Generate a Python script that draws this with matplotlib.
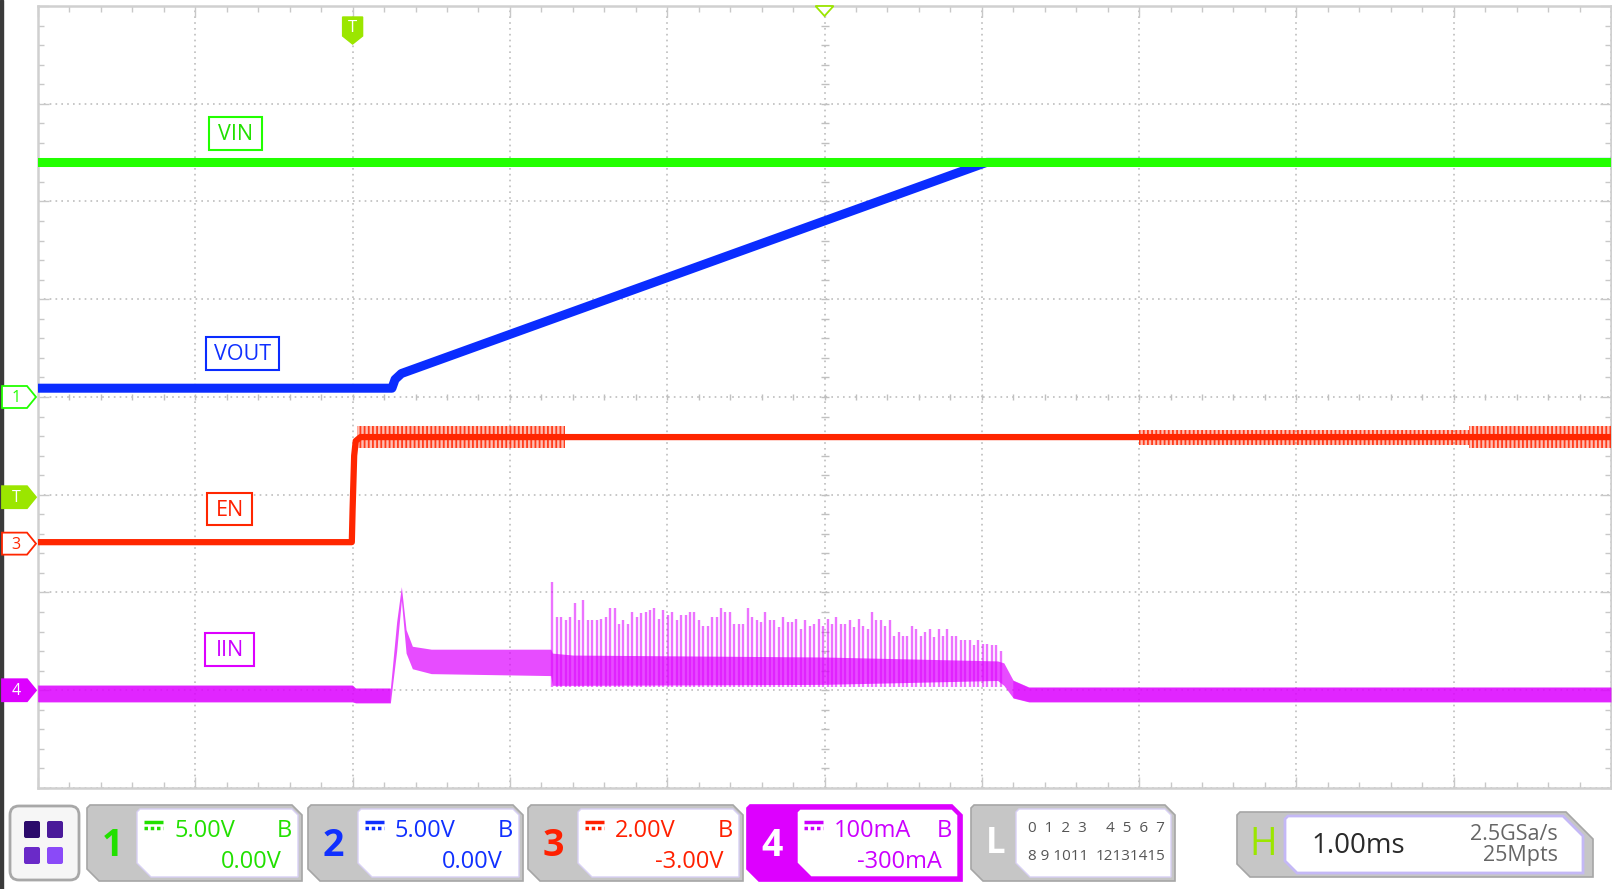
import numpy as np
import matplotlib.pyplot as plt
from matplotlib.patches import Polygon, Rectangle, FancyBboxPatch
from matplotlib.ticker import MultipleLocator

plt.rcParams['font.family'] = ['Open Sans', 'DejaVu Sans']
plt.rcParams['hatch.linewidth'] = 1.3

# channel settings: volts (or mA) per division and offset
ch_names = ['VIN', 'VOUT', 'EN', 'IIN']
ch_scale = [5.0, 5.0, 2.0, 100.0]
ch_offset = [0.0, 0.0, -3.0, -300.0]
ch_scale_txt = ['5.00V', '5.00V', '2.00V', '100mA']
ch_offset_txt = ['0.00V', '0.00V', '-3.00V', '-300mA']
ch_color = ['#22ff00', '#0a2cff', '#ff2600', '#dd00ff']
ch_text_color = ['#22e000', '#1030ff', '#ff2000', '#cc00ff']
timebase_txt = '1.00ms'
sample_txt = ['2.5GSa/s', '25Mpts']
logic_txt = [('0  1  2  3', '4  5  6  7'), ('8 9 1011', '12131415')]

# traces, time in ms (trigger at 0)
vin_t = [-2.0, 8.0]
vin_v = [12.0, 12.0]

vout_t = [-2.0, 0.25, 0.27, 0.31, 4.03, 8.0]
vout_v = [0.45, 0.45, 0.9, 1.2, 12.0, 12.0]

en_t = [-2.0, -0.005, 0.0, 0.01, 0.02, 0.05, 8.0]
en_v = [0.03, 0.03, 0.7, 1.8, 2.1, 2.18, 2.18]
# ripple band on EN high level
en_band_t = [0.03, 1.35, 1.35, 5.0, 5.0, 7.1, 7.1, 8.0]
en_band_hi = [2.40, 2.40, 2.23, 2.23, 2.33, 2.33, 2.40, 2.40]
en_band_lo = [1.96, 1.96, 2.13, 2.13, 2.02, 2.02, 1.96, 1.96]

# input current envelope (mA)
iin_t = [-2.0, 0.0, 0.02, 0.24, 0.28, 0.31, 0.34, 0.38, 0.50, 1.26, 1.27,
         1.40, 3.00, 4.10, 4.14, 4.20, 4.30, 8.0]
iin_upper = [5, 5, 2, 2, 70, 106, 62, 45, 42, 42, 38, 36, 34, 30, 28, 10, 3, 3]
iin_lower = [-12, -12, -13, -13, 40, 92, 38, 22, 17, 15, 5, 5, 6, 10, 5, -8, -12, -12]

# switching spikes during soft start (peak mA)
iin_burst_start = 1.27
iin_burst_end = 4.12
iin_spike_floor = 3.0
iin_spike_peak = [111, 75, 75, 72, 75, 89, 72, 92, 72, 72, 72, 73, 75, 84, 84, 68,
                  72, 68, 80, 75, 79, 80, 82, 84, 73, 82, 77, 80, 72, 77, 77, 80,
                  80, 72, 66, 66, 75, 75, 84, 80, 80, 68, 68, 68, 84, 75, 72, 70,
                  80, 72, 72, 65, 75, 70, 70, 73, 63, 72, 66, 68, 73, 66, 73, 68,
                  75, 68, 68, 72, 65, 73, 66, 63, 80, 72, 72, 66, 72, 56, 60, 56,
                  56, 66, 63, 56, 60, 63, 54, 63, 56, 63, 56, 56, 51, 51, 51, 46,
                  51, 47, 47, 46, 46, 40]

trigger_level = 0.95  # volts on EN


def to_div(ch, vals):
    return (np.asarray(vals, dtype=float) + ch_offset[ch]) / ch_scale[ch]


W, H = 1612, 889
X0, X1, Y0, Y1 = 38, 1611, 6, 788
fig = plt.figure(figsize=(W / 100, H / 100), dpi=100)
ax = fig.add_axes([X0 / W, 1 - Y1 / H, (X1 - X0) / W, (Y1 - Y0) / H])
ax.set_xlim(-2, 8)
ax.set_ylim(-4, 4)

# graticule
ax.xaxis.set_major_locator(MultipleLocator(1))
ax.yaxis.set_major_locator(MultipleLocator(1))
ax.xaxis.set_minor_locator(MultipleLocator(0.2))
ax.yaxis.set_minor_locator(MultipleLocator(0.2))
ax.tick_params(which='both', direction='in', top=True, right=True,
               labelbottom=False, labelleft=False, color='#c8c8c8', width=1)
ax.tick_params(which='major', length=8)
ax.tick_params(which='minor', length=4)
ax.grid(which='major', ls=(0, (1, 2.5)), color='#bdbdbd', lw=1.2)
for sp in ax.spines.values():
    sp.set_color('#d0d0d0')
    sp.set_linewidth(1.8)
cx = np.arange(-2, 8.001, 0.2)
cy = np.arange(-4, 4.001, 0.2)
ax.plot(cx, np.zeros_like(cx), ls='none', marker='|', ms=5, mew=1, color='#c0c0c0')
ax.plot(np.full_like(cy, 3.0), cy, ls='none', marker='_', ms=6, mew=1, color='#c0c0c0')

# IIN
t_arr = np.asarray(iin_t)
ax.fill_between(iin_t, to_div(3, iin_lower), to_div(3, iin_upper),
                color=ch_color[3], alpha=0.7, lw=0, zorder=3)
quiet = (t_arr <= 0.24) | (t_arr >= 4.2)
ax.fill_between(iin_t, to_div(3, iin_lower), to_div(3, iin_upper), where=quiet,
                color=ch_color[3], alpha=0.5, lw=0, zorder=3)
spike_t = np.linspace(iin_burst_start, iin_burst_end, len(iin_spike_peak))
ax.vlines(spike_t, to_div(3, iin_spike_floor), to_div(3, iin_spike_peak),
          color=ch_color[3], alpha=0.55, lw=1.7, zorder=3)

# EN
ax.fill_between(en_band_t, to_div(2, en_band_lo), to_div(2, en_band_hi),
                facecolor=(1, 0.15, 0, 0.3), edgecolor=(1, 0.15, 0, 0.85),
                hatch='||||', lw=0, zorder=4)
ax.plot(en_t, to_div(2, en_v), color=ch_color[2], lw=4.5, zorder=4)

# VOUT and VIN
ax.plot(vout_t, to_div(1, vout_v), color=ch_color[1], lw=6.5, zorder=5)
ax.plot(vin_t, to_div(0, vin_v), color=ch_color[0], lw=6.5, zorder=6)

# overlay in pixel coordinates for the scope chrome
ov = fig.add_axes([0, 0, 1, 1], zorder=3)
ov.set_xlim(0, W)
ov.set_ylim(H, 0)
ov.axis('off')


def ypx(div):
    return Y0 + (4 - div) * (Y1 - Y0) / 8


def xpx(t):
    return X0 + (t + 2) * (X1 - X0) / 10


ov.add_patch(Rectangle((0, 0), 2.5, H, color='#3a3a3a'))

# trace labels
label_boxes = [(209, 117, 53, 33), (206, 337, 73, 33), (207, 493, 45, 32), (205, 633, 49, 33)]
for i, (bx, by, bw, bh) in enumerate(label_boxes):
    ov.add_patch(Rectangle((bx, by), bw, bh, fc='white', ec=ch_color[i], lw=1.5, zorder=4))
    ov.text(bx + bw / 2, by + bh / 2 + 1, ch_names[i], color=ch_text_color[i], fontsize=15.5,
            ha='center', va='center', zorder=5)

# left-hand channel markers
TRIG = '#9be600'
marks = [('1', to_div(0, 0.0), ch_color[0], False),
         ('T', to_div(2, trigger_level), TRIG, True),
         ('3', to_div(2, 0.0), ch_color[2], False),
         ('4', to_div(3, 0.0), ch_color[3], True)]
for lab, d, c, filled in marks:
    yc = ypx(float(d))
    pts = [(2, yc - 11), (27, yc - 11), (36, yc), (27, yc + 11), (2, yc + 11)]
    ov.add_patch(Polygon(pts, closed=True, fc=c if filled else 'white', ec=c, lw=1.3, zorder=4))
    ov.text(16, yc + 1, lab, color='white' if filled else c, fontsize=11.5,
            ha='center', va='center', zorder=5)

# trigger position marker at top and centre marker
tx = xpx(0.0)
ov.add_patch(Polygon([(tx - 10, 17), (tx + 10, 17), (tx + 10, 36), (tx, 44), (tx - 10, 36)],
                     closed=True, fc=TRIG, ec=TRIG, zorder=4))
ov.text(tx, 28, 'T', color='white', fontsize=12, ha='center', va='center', zorder=5)
mx = xpx(3.0)
ov.add_patch(Polygon([(mx - 9, 6), (mx + 9, 6), (mx, 16)], closed=True, fc='white', ec=TRIG,
                     lw=1.3, zorder=4))


# status bar
def panel(x0, y0, x1, y1, fc, ec, tr=10, bl=12, lw=1.2):
    pts = [(x0, y0 + 3), (x0 + 3, y0), (x1 - tr, y0), (x1, y0 + tr), (x1, y1),
           (x0 + bl, y1), (x0, y1 - bl)]
    ov.add_patch(Polygon(pts, closed=True, fc=fc, ec=ec, lw=lw, zorder=4))


ov.add_patch(FancyBboxPatch((10, 806), 69, 74, boxstyle='round,pad=0,rounding_size=9',
                            fc='#f6f6f6', ec='#a8a8a8', lw=2, zorder=4))
sq_col = ['#2b0a6b', '#4a1a9a', '#6a2ac8', '#8a4af8']
for k, (sx, sy) in enumerate([(24, 821), (47, 821), (24, 847), (47, 847)]):
    ov.add_patch(FancyBboxPatch((sx, sy), 16, 17, boxstyle='round,pad=0,rounding_size=2',
                                fc=sq_col[k], ec='none', zorder=5))

panel_x = [87, 308, 528, 747]
for i, x0 in enumerate(panel_x):
    active = i == 3
    outer = ch_color[3] if active else '#c6c6c6'
    panel(x0, 805, x0 + 215, 881, outer, '#a6a6a6' if not active else ch_color[3])
    panel(x0 + 50, 809, x0 + 211, 877, 'white', '#d8d0f4' if not active else ch_color[3],
          tr=6, bl=14, lw=1)
    ov.text(x0 + 25, 846, str(i + 1), color='white' if active else ch_text_color[i],
            fontsize=27, fontweight='bold', ha='center', va='center', zorder=5)
    ov.plot([x0 + 57, x0 + 76], [822, 822], color=ch_text_color[i], lw=2.5,
            solid_capstyle='butt', zorder=5)
    ov.plot([x0 + 57, x0 + 76], [828, 828], color=ch_text_color[i], lw=2.5,
            ls=(0, (1, 0.8)), zorder=5)
    ov.text(x0 + 87, 831, ch_scale_txt[i], color=ch_text_color[i], fontsize=17,
            ha='left', va='center', zorder=5)
    ov.text(x0 + 197, 831, 'B', color=ch_text_color[i], fontsize=17,
            ha='center', va='center', zorder=5)
    ov.text(x0 + 195, 862, ch_offset_txt[i], color=ch_text_color[i], fontsize=17,
            ha='right', va='center', zorder=5)

# logic panel
panel(971, 805, 1175, 881, '#c6c6c6', '#a6a6a6')
panel(1016, 809, 1171, 877, 'white', '#d8d0f4', tr=6, bl=14, lw=1)
ov.text(996, 844, 'L', color='white', fontsize=25, fontweight='bold', ha='center',
        va='center', zorder=5)
for row, yy in zip(logic_txt, [829, 856]):
    ov.text(1028, yy, row[0], color='#555555', fontsize=11, ha='left', va='center',
            zorder=5)
    ov.text(1165, yy, row[1], color='#555555', fontsize=11, ha='right', va='center',
            zorder=5)

# horizontal panel
panel(1237, 812, 1593, 877, '#c6c6c6', '#a6a6a6', tr=27, bl=13)
panel(1285, 816, 1583, 873, 'white', '#c4b8f6', tr=20, bl=12, lw=2)
ov.text(1263, 845, 'H', color='#9be600', fontsize=27, ha='center', va='center', zorder=5)
ov.text(1311, 846, timebase_txt, color='#2a2a2a', fontsize=20, ha='left', va='center',
        zorder=5)
ov.text(1558, 835, sample_txt[0], color='#666666', fontsize=15.5, ha='right',
        va='center', zorder=5)
ov.text(1558, 855, sample_txt[1], color='#666666', fontsize=15.5, ha='right',
        va='center', zorder=5)

fig.savefig('out.png', dpi=100)
